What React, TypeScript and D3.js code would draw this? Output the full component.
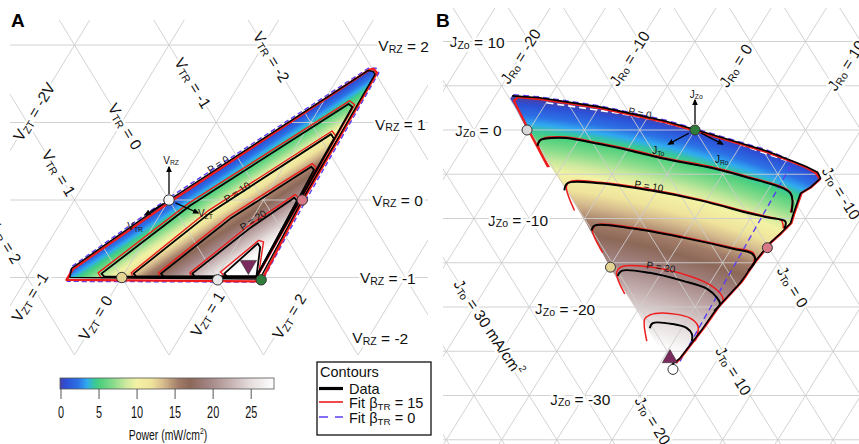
import * as d3 from 'd3';

type Pt = [number, number];

const FONT = '"Liberation Sans", Arial, Helvetica, sans-serif';

// ---- colour bar (power, mW/cm2) ----
const powerStops = [0, 0.8, 2.4, 3.5, 4.5, 5.3, 7, 8.6, 10, 12, 13.5, 15.5, 17, 19.5, 22.5, 25, 28];
const powerColors = ['#4442ad', '#2c50d6', '#2c72e6', '#30aaf0', '#38c898', '#4fd07e', '#8adc8c', '#cce99e', '#f3f2a4', '#efe39c', '#d6bb8e', '#a27c68', '#8c6858', '#a48585', '#c8b4b4', '#e6dede', '#ffffff'];
const powerTicks = [0, 5, 10, 15, 20, 25];
const powerMax = 28;
const contourLevels = [5, 10, 15, 20, 25];

// ---- panel A, points are [V_RZ, V_ZT] ----
const gridRZ = [-1, 0, 1, 2];
const gridDiagA = d3.range(-6, 7);
const regionA: Pt[] = [[-1.0, -0.55], [-0.88, -0.59], [0, 0], [1.67, 1.27], [1.66, 1.33], [1.62, 1.37], [0, 1.41], [-1.02, 1.47]];
const dataContoursA: Pt[][] = [
  [[-0.99, -0.19], [-0.95, -0.24], [-0.07, 0.26], [1.24, 1.28], [1.2, 1.34], [-0.99, 1.42]],
  [[-0.99, 0.15], [-0.95, 0.1], [-0.16, 0.52], [0.85, 1.29], [0.79, 1.35], [-0.99, 1.42]],
  [[-0.99, 0.44], [-0.95, 0.39], [-0.24, 0.77], [0.43, 1.29], [0.39, 1.34], [-0.99, 1.42]],
  [[-0.99, 0.77], [-0.95, 0.72], [-0.36, 1.04], [0.03, 1.31], [-0.01, 1.36], [-0.99, 1.42]],
  [[-0.99, 1.11], [-0.95, 1.06], [-0.56, 1.22], [-0.61, 1.27], [-0.99, 1.42]],
];
const fitContoursA: Pt[][] = [
  [[-1.0, -0.22], [-0.94, -0.28], [-0.04, 0.23], [1.28, 1.27], [1.23, 1.35], [-1.0, 1.43]],
  [[-1.0, 0.12], [-0.94, 0.07], [-0.13, 0.49], [0.89, 1.28], [0.82, 1.36], [-1.0, 1.43]],
  [[-1.0, 0.41], [-0.94, 0.36], [-0.21, 0.74], [0.47, 1.28], [0.42, 1.35], [-1.0, 1.43]],
  [[-1.0, 0.74], [-0.94, 0.69], [-0.33, 1.01], [0.07, 1.3], [0.02, 1.37], [-1.0, 1.43]],
  [[-0.99, 1.09], [-0.93, 1.01], [-0.52, 1.21], [-0.54, 1.27], [-0.99, 1.44]],
];
const fitBoundaryA: Pt[] = [[-1.03, -0.57], [-0.89, -0.57], [-0.03, 0.02], [1.68, 1.28], [1.69, 1.32], [1.64, 1.38], [-0.01, 1.42], [-1.05, 1.5]];
const flatBoundaryA: Pt[] = [[-1.05, -0.55], [-0.86, -0.6], [0.02, -0.02], [1.7, 1.26], [1.7, 1.34], [1.64, 1.4], [-0.01, 1.45], [-1.06, 1.51]];
const markersA = [
  { at: [0, 0] as Pt, fill: '#f4f4f4' },
  { at: [0, 1.41] as Pt, fill: '#d77a88' },
  { at: [-1, 0] as Pt, fill: '#e4d494' },
  { at: [-1.03, 1.03] as Pt, fill: '#e8e8e8' },
  { at: [-1.03, 1.49] as Pt, fill: '#2e7d3c' },
];
const optimumA: Pt = [-0.84, 1.26];
const labelsRZ = [
  { v: '2', at: [1.99, 1.22] as Pt }, { v: '1', at: [0.98, 1.69] as Pt }, { v: '0', at: [0, 2.15] as Pt },
  { v: '-1', at: [-1.0, 2.52] as Pt }, { v: '-2', at: [-1.78, 2.83] as Pt },
];
const labelsTR = [
  { v: '-2', at: [1.85, 0.16] as Pt }, { v: '-1', at: [1.51, -0.5] as Pt }, { v: '0', at: [0.95, -0.94] as Pt }, { v: '1', at: [0.35, -1.34] as Pt },
];
const labelTR2: Pt = [-0.8, -1.2];
const labelsZT = [
  { v: '-2V', at: [1.14, -2.0] as Pt }, { v: '-1', at: [-1.25, -0.85] as Pt }, { v: '0', at: [-1.52, -0.02] as Pt },
  { v: '1', at: [-1.47, 1.14] as Pt }, { v: '2', at: [-1.5, 2.02] as Pt },
];
const pLabelsA = [{ t: 'P = 0', at: [0.46, 0.29] as Pt }, { t: 'P = 10', at: [0.1, 0.67] as Pt }, { t: 'P = 20', at: [-0.26, 1.02] as Pt }];

// ---- panel B, points are [J_Zo, J_Ro] ----
const gridZo = d3.range(-35, 11, 5);
const gridDiagB = d3.range(-50, 51, 5);
const topEdgeB: Pt[] = [[3.86, -18.48], [3.64, -15.91], [3.18, -13.23], [2.61, -9.95], [1.82, -6.55], [1.02, -3.24], [0.11, -0.24], [-1.14, 3.75], [-2.39, 7.74], [-3.41, 10.34], [-4.09, 12.05], [-4.77, 13.48], [-5.45, 14.09]];
const rightEdgeB: Pt[] = [[-6.48, 13.69], [-7.16, 13.13], [-9.43, 13.63], [-10.57, 13.92], [-11.7, 13.58], [-12.73, 13.18], [-15.11, 12.83], [-16.48, 12.79], [-17.27, 12.73], [-20.11, 12.06], [-22.39, 11.92], [-25.8, 11.54], [-26.48, 11.15]];
const leftEdgeB: Pt[] = [[-24.77, 9.2], [-19.66, 4.19], [-15.45, 0.0], [-10.57, -4.54], [-6.82, -8.23], [-3.41, -11.75], [0, -15.18], [2.73, -17.73], [3.52, -18.49]];
const dataContoursB: Pt[][] = [
  [[-1.82, -13.36], [-1.14, -13.43], [-0.91, -12.55], [-0.91, -11.18], [-1.59, -7.84], [-2.39, -4.44], [-3.3, -0.9], [-4.32, 3.8], [-5.45, 7.73], [-6.59, 11.3], [-7.16, 12.22], [-7.95, 12.8], [-9.32, 13.39]],
  [[-6.82, -8.41], [-6.02, -8.54], [-6.02, -5.63], [-6.82, -0.68], [-7.95, 4.43], [-9.43, 9.72], [-9.89, 11.58], [-10.34, 13.35], [-11.14, 13.66]],
  [[-11.36, -3.68], [-10.8, -3.69], [-11.14, -0.07], [-12.16, 4.99], [-13.41, 10.15], [-13.98, 12.17], [-14.77, 12.84], [-15.91, 12.77]],
  [[-16.48, 1.24], [-15.91, 1.31], [-16.14, 3.98], [-17.05, 7.43], [-17.95, 10.07], [-18.98, 11.49], [-19.66, 12.1], [-20.45, 11.96]],
  [[-22.39, 7.1], [-21.82, 7.09], [-21.93, 8.97], [-22.39, 10.46], [-23.07, 11.26], [-23.86, 11.66]],
];
const fitContoursB: Pt[][] = [
  [[-4.2, -11.08], [-1.48, -13.44], [-0.91, -13.19], [-0.8, -11.24], [-1.48, -7.9], [-2.27, -4.5], [-3.18, -0.96], [-4.2, 3.74], [-5.34, 7.67], [-6.48, 11.24], [-7.05, 12.16], [-7.95, 12.8], [-9.32, 13.3]],
  [[-9.09, -6.36], [-6.36, -8.46], [-5.8, -8.37], [-5.91, -5.69], [-6.7, -0.74], [-7.84, 4.37], [-9.32, 9.66], [-9.8, 11.55], [-10.23, 12.93], [-11.14, 13.57]],
  [[-13.86, -1.43], [-11.25, -3.64], [-10.68, -3.48], [-11.02, -0.13], [-12.05, 4.93], [-13.3, 10.1], [-13.86, 12.2], [-14.77, 12.75], [-15.91, 12.77]],
  [[-18.52, 2.9], [-16.14, 0.98], [-15.45, 1.09], [-15.8, 5.35], [-17.73, 10.5], [-19.2, 12.15], [-20.23, 12.02]],
  [[-23.86, 7.57], [-21.36, 6.13], [-20.91, 6.36], [-20.68, 7.43], [-21.25, 10.18], [-22.16, 11.35], [-23.3, 11.83], [-23.86, 11.93]],
];
const fitBoundaryB: Pt[] = [[-4.18, -11.21], [-0.34, -14.76], [3.28, -18.02], [3.73, -17.88], [3.5, -15.78], [3.05, -13.11], [2.49, -9.84], [1.69, -6.46], [0.9, -3.16], [0, -0.18], [-1.24, 3.79], [-2.49, 7.76], [-3.5, 10.35], [-4.18, 12.04], [-4.86, 13.38], [-5.54, 14.08], [-6.44, 13.76], [-7.12, 13.2], [-9.38, 13.69], [-10.51, 13.98], [-11.64, 13.65], [-12.66, 13.25], [-15.03, 12.89], [-16.38, 12.85], [-17.18, 12.8], [-20.0, 12.13], [-22.26, 11.99], [-25.65, 11.6], [-26.33, 11.44]];
const flatBoundaryB: Pt[] = [[3.98, -18.44], [3.75, -15.97], [3.3, -13.29], [2.73, -10.0], [1.93, -6.61], [1.14, -3.3], [0.23, -0.29], [-1.02, 3.69], [-2.27, 7.69], [-3.18, 9.86], [-4.09, 10.69], [-26.14, 11.71]];
const dataGapsB: Pt[] = [[3.07, -14.98], [2.5, -11.43], [1.93, -8.06], [1.25, -4.72], [-0.68, 2.34], [-2.73, 7.91], [-4.32, 12.61]];
const markersB = [
  { at: [0, -15.2] as Pt, fill: '#d9d9d9' },
  { at: [0, 0] as Pt, fill: '#2e7d3c' },
  { at: [-13.3, 13.2] as Pt, fill: '#d77a88' },
  { at: [-15.5, 0.1] as Pt, fill: '#e4d494' },
  { at: [-27.05, 11.53] as Pt, fill: '#ffffff' },
];
const optimumB: Pt = [-25.8, 10.63];
const labelsZo = [
  { v: '10', at: [10, -27.2] as Pt }, { v: '0', at: [0, -21.7] as Pt }, { v: '-10', at: [-10.17, -13.65] as Pt },
  { v: '-20', at: [-20.2, -4.37] as Pt }, { v: '-30', at: [-30.4, 2.1] as Pt },
];
const labelsRo = [{ v: '-20', at: [8.36, -20] as Pt }, { v: '-10', at: [8.1, -10] as Pt }, { v: '0', at: [7.3, 0] as Pt }, { v: '10', at: [7.3, 10] as Pt }];
const labelsTo = [
  { v: '-10', at: [-7.1, 16.8] as Pt, sup: '' }, { v: '0', at: [-17.7, 17.7] as Pt, sup: '' }, { v: '10', at: [-27.2, 17.1] as Pt, sup: '' },
  { v: '20', at: [-32.8, 12.6] as Pt, sup: '' }, { v: '30 mA/cm', at: [-22.3, -7.5] as Pt, sup: '2' },
];
const pLabelsB = [{ t: 'P = 0', at: [1.92, -5.94] as Pt, rot: 12 }, { t: 'P = 10', at: [-6.33, -1.0] as Pt, rot: 9 }, { t: 'P = 20', at: [-15.5, 4.66] as Pt, rot: 9 }];

function SubText({ x, y, rotate = 0, anchor = 'middle', main, sub, rest, sup = '', size = 15.5, halo = true }: any) {
  return (
    <text
      transform={`translate(${x},${y}) rotate(${rotate})`}
      textAnchor={anchor}
      dominantBaseline="central"
      fontSize={size}
      fontFamily={FONT}
      fill="#111"
      stroke={halo ? '#fff' : 'none'}
      strokeWidth={halo ? 5 : 0}
      strokeLinejoin="round"
      paintOrder="stroke"
    >
      {main}
      <tspan dy={size * 0.22} fontSize={size * 0.68}>{sub}</tspan>
      <tspan dy={-size * 0.22}>{rest}</tspan>
      {sup ? <tspan dy={-size * 0.35} fontSize={size * 0.65}>{sup}</tspan> : null}
    </text>
  );
}

function Arrow({ c, angle, from, to, label, labelAngle, labelDist }: any) {
  const rad = (angle * Math.PI) / 180;
  const lr = (labelAngle * Math.PI) / 180;
  return (
    <g>
      <line x1={c[0] + from * Math.cos(rad)} y1={c[1] + from * Math.sin(rad)} x2={c[0] + to * Math.cos(rad)} y2={c[1] + to * Math.sin(rad)} stroke="#000" strokeWidth={1.3} markerEnd="url(#arrowHead)" />
      <SubText x={c[0] + labelDist * Math.cos(lr)} y={c[1] + labelDist * Math.sin(lr)} main={label[0]} sub={label[1]} rest="" size={10} halo={false} />
    </g>
  );
}

export default function App() {
  const W = 859;
  const H = 444;

  const aY = d3.scaleLinear().domain([-2, 2]).range([355, 45]);
  const aX = d3.scaleLinear().domain([0, 1]).range([169, 263.5]);
  const projA = ([rz, zt]: Pt): Pt => [aX(zt + rz / 2), aY(rz)];
  const bY = d3.scaleLinear().domain([0, -10]).range([130, 218.5]);
  const bX = d3.scaleLinear().domain([0, 10]).range([695, 805.5]);
  const projB = ([zo, ro]: Pt): Pt => [bX(ro + zo / 2), bY(zo)];

  const closed = d3.line<Pt>().curve(d3.curveLinearClosed);
  const open = d3.line<Pt>();
  const smooth = d3.line<Pt>().curve(d3.curveCatmullRom.alpha(0.5));

  const colour = d3.scaleLinear<string>().domain(powerStops).range(powerColors).interpolate(d3.interpolateRgb);

  // gradient across panel A, perpendicular to the P = 0 edge
  const e0 = projA(regionA[2]);
  const e1 = projA(regionA[3]);
  const el = Math.hypot(e1[0] - e0[0], e1[1] - e0[1]);
  const nx = -(e1[1] - e0[1]) / el;
  const ny = (e1[0] - e0[0]) / el;
  const distA = (p: Pt) => (p[0] - e0[0]) * nx + (p[1] - e0[1]) * ny;
  const distScaleA = d3.scaleLinear().domain([0, ...contourLevels]).range([0, ...dataContoursA.map((c) => distA(projA(c[2])))]);
  const dMaxA = distScaleA(powerMax);

  // radial gradient for panel B (contours are arcs)
  const cB: Pt = [425, 1165];
  const distB = (p: Pt) => Math.hypot(p[0] - cB[0], p[1] - cB[1]);
  const d0B = d3.mean(topEdgeB.map((p) => distB(projB(p)))) as number;
  const distScaleB = d3.scaleLinear().domain([0, ...contourLevels]).range([d0B, ...dataContoursB.map((c) => d3.mean(c.slice(1, -2).map((p) => distB(projB(p)))) as number)]);
  const rB = d0B + 40;
  const stopsB = powerStops.map((p, i) => ({ off: distScaleB(p) / rB, col: powerColors[i] })).reverse();

  const regionB = [...topEdgeB, ...rightEdgeB, ...leftEdgeB];
  const cbX = d3.scaleLinear().domain([0, powerMax]).range([61, 274]);

  const gridStroke = '#cdcdcd';
  const tiltA = (Math.atan2(aY(0) - aY(1), aX(0.5) - aX(0)) * 180) / Math.PI; // ~58.6
  const tiltB = (Math.atan2(bY(0) - bY(5), bX(2.5) - bX(0)) * 180) / Math.PI; // ~58

  const cA = projA(markersA[0].at);
  const cG = projB(markersB[1].at);

  return (
    <svg width={W} height={H} style={{ position: 'absolute', left: 0, top: 0, background: '#fff' }} fontFamily={FONT}>
      <defs>
        <clipPath id="clipA"><rect x={10} y={20} width={418} height={335} /></clipPath>
        <clipPath id="clipB"><rect x={443} y={8} width={416} height={436} /></clipPath>
        <linearGradient id="gradA" gradientUnits="userSpaceOnUse" x1={e0[0]} y1={e0[1]} x2={e0[0] + nx * dMaxA} y2={e0[1] + ny * dMaxA}>
          {powerStops.map((p, i) => <stop key={i} offset={distScaleA(p) / dMaxA} stopColor={powerColors[i]} />)}
        </linearGradient>
        <radialGradient id="gradB" gradientUnits="userSpaceOnUse" cx={cB[0]} cy={cB[1]} r={rB}>
          {stopsB.map((s, i) => <stop key={i} offset={s.off} stopColor={s.col} />)}
        </radialGradient>
        <linearGradient id="gradBar" x1="0" x2="1" y1="0" y2="0">
          {powerStops.map((p, i) => <stop key={i} offset={p / powerMax} stopColor={colour(p)} />)}
        </linearGradient>
        <marker id="arrowHead" viewBox="0 0 10 10" refX="8" refY="5" markerWidth="5" markerHeight="5" orient="auto">
          <path d="M0,0.5 L10,5 L0,9.5 z" fill="#000" />
        </marker>
      </defs>

      {/* ---------------- panel A ---------------- */}
      <path d={closed(regionA.map(projA)) || ''} fill="url(#gradA)" />
      <g clipPath="url(#clipA)" stroke={gridStroke} strokeWidth={0.9}>
        {gridRZ.map((v) => <line key={'h' + v} x1={10} x2={428} y1={aY(v)} y2={aY(v)} />)}
        {gridDiagA.map((k) => {
          const p = projA([-3, k]); const q = projA([3, k]);
          return <line key={'zt' + k} x1={p[0]} y1={p[1]} x2={q[0]} y2={q[1]} />;
        })}
        {gridDiagA.map((k) => {
          const p = projA([-3, -k + 3]); const q = projA([3, -k - 3]);
          return <line key={'tr' + k} x1={p[0]} y1={p[1]} x2={q[0]} y2={q[1]} />;
        })}
      </g>
      <path d={closed(flatBoundaryA.map(projA)) || ''} fill="none" stroke="#5b3ff0" strokeWidth={1.4} strokeDasharray="5,3" />
      <path d={closed(fitBoundaryA.map(projA)) || ''} fill="none" stroke="#ee1c1c" strokeWidth={2.4} strokeLinejoin="round" />
      {fitContoursA.map((c, i) => <path key={'fa' + i} d={closed(c.map(projA)) || ''} fill="none" stroke="#ee1c1c" strokeWidth={1.4} strokeLinejoin="round" />)}
      {dataContoursA.map((c, i) => <path key={'da' + i} d={closed(c.map(projA)) || ''} fill="none" stroke="#000" strokeWidth={1.8} strokeLinejoin="round" />)}
      <path d={closed(regionA.map(projA)) || ''} fill="none" stroke="#000" strokeWidth={1.4} strokeLinejoin="round" />
      {pLabelsA.map((l) => {
        const [x, y] = projA(l.at);
        return <text key={l.t} transform={`translate(${x},${y}) rotate(-33)`} textAnchor="middle" dominantBaseline="central" fontSize={10} fill="#111">{l.t}</text>;
      })}
      <Arrow c={cA} angle={-90} from={6} to={33} label={['V', 'RZ']} labelAngle={-87} labelDist={40} />
      <Arrow c={cA} angle={24} from={7} to={32} label={['V', 'ZT']} labelAngle={21} labelDist={39} />
      <Arrow c={cA} angle={148} from={7} to={28} label={['V', 'TR']} labelAngle={142} labelDist={43} />
      {markersA.map((m, i) => {
        const [x, y] = projA(m.at);
        return <circle key={'ma' + i} cx={x} cy={y} r={5.2} fill={m.fill} stroke="#333" strokeWidth={1} />;
      })}
      <path transform={`translate(${projA(optimumA)[0]},${projA(optimumA)[1]}) rotate(180)`} d={d3.symbol().type(d3.symbolTriangle).size(115)() || ''} fill="#7b2a5e" stroke="#333" strokeWidth={0.6} />

      {labelsRZ.map((l) => {
        const [x, y] = projA(l.at);
        return <SubText key={'rz' + l.v} x={x} y={y} anchor="start" main="V" sub="RZ" rest={` = ${l.v}`} />;
      })}
      {labelsTR.map((l) => {
        const [x, y] = projA(l.at);
        return <SubText key={'tr' + l.v} x={x} y={y} rotate={tiltA} main="V" sub="TR" rest={` = ${l.v}`} />;
      })}
      <SubText x={projA(labelTR2)[0]} y={projA(labelTR2)[1]} rotate={tiltA} anchor="end" main="V" sub="TR" rest=" = 2" />
      {labelsZT.map((l) => {
        const [x, y] = projA(l.at);
        return <SubText key={'zt' + l.v} x={x} y={y} rotate={-tiltA} main="V" sub="ZT" rest={` = ${l.v}`} />;
      })}
      <text x={11} y={27} fontSize={19} fontWeight="bold" fill="#000">A</text>

      {/* colour bar */}
      <rect x={60} y={378} width={214} height={11} fill="url(#gradBar)" stroke="#555" strokeWidth={0.8} />
      {powerTicks.map((t) => (
        <g key={'cb' + t}>
          <line x1={cbX(t)} x2={cbX(t)} y1={389} y2={399} stroke="#444" strokeWidth={0.9} />
          <text transform={`translate(${cbX(t)},418) scale(0.68,1)`} textAnchor="middle" fontSize={16} fill="#111">{t}</text>
        </g>
      ))}
      <text transform="translate(168,440) scale(0.72,1)" textAnchor="middle" fontSize={14.5} fill="#111">
        Power (mW/cm<tspan dy={-6} fontSize={9.5}>2</tspan><tspan dy={6}>)</tspan>
      </text>

      {/* legend */}
      <rect x={317} y={362} width={114} height={73} fill="#fff" stroke="#111" strokeWidth={1.3} />
      <text x={320} y={377} fontSize={14.5} fill="#111">Contours</text>
      <line x1={319} x2={343} y1={388.5} y2={388.5} stroke="#000" strokeWidth={3.2} />
      <text x={349} y={393.5} fontSize={14.5} fill="#111">Data</text>
      <line x1={319} x2={343} y1={402} y2={402} stroke="#ee1c1c" strokeWidth={1.6} />
      <SubText x={349} y={402.5} anchor="start" main="Fit β" sub="TR" rest=" = 15" size={14.5} halo={false} />
      <line x1={319} x2={343} y1={417} y2={417} stroke="#5b3ff0" strokeWidth={1.6} strokeDasharray="9,7" />
      <SubText x={349} y={417.5} anchor="start" main="Fit β" sub="TR" rest=" = 0" size={14.5} halo={false} />

      {/* ---------------- panel B ---------------- */}
      <path d={closed(regionB.map(projB)) || ''} fill="url(#gradB)" />
      <g clipPath="url(#clipB)" stroke={gridStroke} strokeWidth={0.9}>
        {gridZo.map((v) => <line key={'hz' + v} x1={443} x2={859} y1={bY(v)} y2={bY(v)} />)}
        {gridDiagB.map((k) => {
          const p = projB([-45, k]); const q = projB([20, k]);
          return <line key={'ro' + k} x1={p[0]} y1={p[1]} x2={q[0]} y2={q[1]} />;
        })}
        {gridDiagB.map((k) => {
          const p = projB([-45, -k + 45]); const q = projB([20, -k - 20]);
          return <line key={'to' + k} x1={p[0]} y1={p[1]} x2={q[0]} y2={q[1]} />;
        })}
      </g>
      <path d={open(dataGapsB.map(projB)) || ''} fill="none" stroke="#fff" strokeWidth={1.6} strokeDasharray="7,4" />
      <path d={open(flatBoundaryB.map(projB)) || ''} fill="none" stroke="#5b3ff0" strokeWidth={1.4} strokeDasharray="6,4" />
      <path d={open(fitBoundaryB.map(projB)) || ''} fill="none" stroke="#ee1c1c" strokeWidth={2.4} strokeLinejoin="round" />
      {fitContoursB.map((c, i) => <path key={'fb' + i} d={smooth(c.map(projB)) || ''} fill="none" stroke="#ee1c1c" strokeWidth={1.5} />)}
      {dataContoursB.map((c, i) => <path key={'db' + i} d={smooth(c.map(projB)) || ''} fill="none" stroke="#000" strokeWidth={2} />)}
      <path d={open([...topEdgeB, ...rightEdgeB].map(projB)) || ''} fill="none" stroke="#000" strokeWidth={1.6} strokeLinejoin="round" />
      {pLabelsB.map((l) => {
        const [x, y] = projB(l.at);
        return <text key={l.t} transform={`translate(${x},${y}) rotate(${l.rot})`} textAnchor="middle" dominantBaseline="central" fontSize={10} fill="#111">{l.t}</text>;
      })}
      <Arrow c={cG} angle={-90} from={6} to={30} label={['J', 'Zo']} labelAngle={-88} labelDist={36} />
      <Arrow c={cG} angle={152} from={7} to={30} label={['J', 'To']} labelAngle={151} labelDist={42} />
      <Arrow c={cG} angle={27} from={7} to={31} label={['J', 'Ro']} labelAngle={48} labelDist={40} />
      {markersB.map((m, i) => {
        const [x, y] = projB(m.at);
        return <circle key={'mb' + i} cx={x} cy={y} r={5} fill={m.fill} stroke="#333" strokeWidth={1} />;
      })}
      <path transform={`translate(${projB(optimumB)[0]},${projB(optimumB)[1]})`} d={d3.symbol().type(d3.symbolTriangle).size(100)() || ''} fill="#7b2a5e" stroke="#333" strokeWidth={0.6} />

      {labelsZo.map((l) => {
        const [x, y] = projB(l.at);
        return <SubText key={'zo' + l.v} x={x} y={y} anchor="start" main="J" sub="Zo" rest={` = ${l.v}`} />;
      })}
      {labelsRo.map((l) => {
        const [x, y] = projB(l.at);
        return <SubText key={'ro' + l.v} x={x} y={y} rotate={-tiltB} main="J" sub="Ro" rest={` = ${l.v}`} />;
      })}
      {labelsTo.map((l) => {
        const [x, y] = projB(l.at);
        return <SubText key={'to' + l.v} x={x} y={y} rotate={l.sup ? tiltB - 2 : tiltB} main="J" sub="To" rest={` = ${l.v}`} sup={l.sup} />;
      })}
      <text x={436} y={27} fontSize={19} fontWeight="bold" fill="#000">B</text>
    </svg>
  );
}
